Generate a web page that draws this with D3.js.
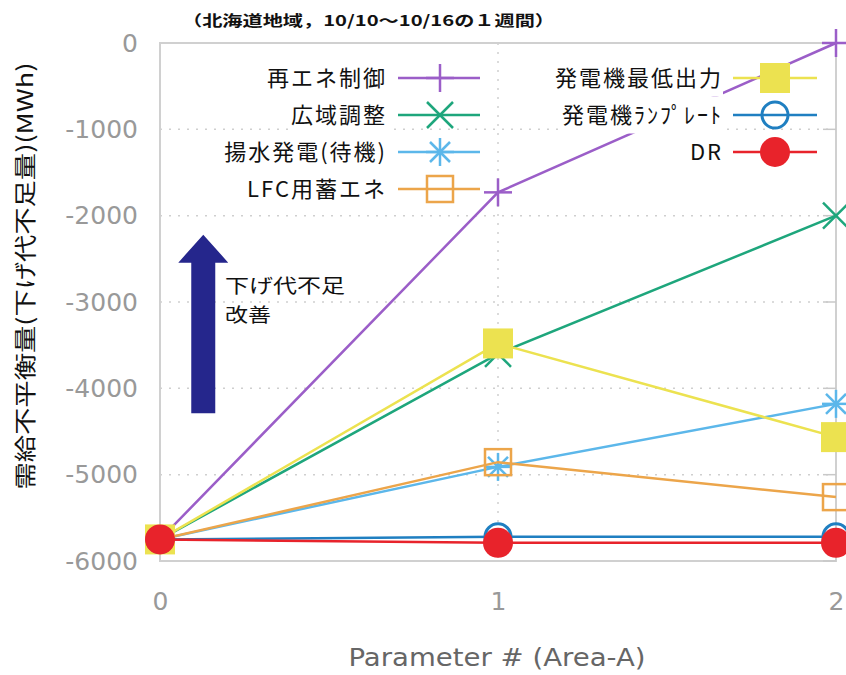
<!DOCTYPE html>
<html><head><meta charset="utf-8">
<script src="https://cdn.jsdelivr.net/npm/d3@7"></script>
<style>html,body{margin:0;padding:0;background:#fff;}svg{display:block;}</style>
</head><body>
<svg id="c" width="846" height="675"></svg>
<script>
// ---- data ----
const xValues = [0, 1, 2];
const xTickLabels = ["0", "1", "2"];
const yTicks = [0, -1000, -2000, -3000, -4000, -5000, -6000];
const seriesNames = ["再エネ制御", "広域調整", "揚水発電(待機)", "LFC用蓄エネ", "発電機最低出力", "発電機ﾗﾝﾌﾟﾚｰﾄ", "DR"];
const valsSaiene  = [-5750, -1730, 0];
const valsKouiki  = [-5750, -3600, -2000];
const valsYousui  = [-5750, -4910, -4180];
const valsLFC     = [-5750, -4855, -5260];
const valsMinOut  = [-5750, -3480, -4565];
const valsRamp    = [-5750, -5720, -5720];
const valsDR      = [-5750, -5790, -5790];
const seriesColors = ["#9b5ec8", "#1ea67c", "#5cb7ea", "#eca54a", "#ece250", "#1f7fc1", "#e8232b"];
const seriesMarkers = ["plus", "cross", "star", "openSquare", "filledSquare", "openCircle", "filledCircle"];
const titleText = "（北海道地域，10/10～10/16の１週間）";
const yTitle = "需給不平衡量(下げ代不足量)(MWh)";
const xTitle = "Parameter # (Area-A)";
const arrowText = ["下げ代不足", "改善"];
const arrowFrom = -4290, arrowTo = -2220, arrowX = 0.128;

const allVals = [valsSaiene, valsKouiki, valsYousui, valsLFC, valsMinOut, valsRamp, valsDR];
const series = seriesNames.map((n, i) => ({name: n, color: seriesColors[i], marker: seriesMarkers[i],
  values: xValues.map((x, j) => ({x, y: allVals[i][j]}))}));

// ---- layout ----
const L = 160, R = 836, T = 43, B = 561;
const x = d3.scaleLinear().domain([0, 2]).range([L, R]);
const y = d3.scaleLinear().domain([-6000, 0]).range([B, T]);
const svg = d3.select("#c");

// grid
const grid = svg.append("g");
grid.selectAll("line.h").data(yTicks.filter(t => t !== 0 && t !== -6000)).join("line")
  .attr("x1", L).attr("x2", R).attr("y1", d => y(d)).attr("y2", d => y(d))
  .attr("stroke", "#cfcfcf").attr("stroke-width", 1.5).attr("stroke-dasharray", "2,7");
grid.append("line").attr("x1", x(1)).attr("x2", x(1)).attr("y1", T).attr("y2", B)
  .attr("stroke", "#cfcfcf").attr("stroke-width", 1.5).attr("stroke-dasharray", "2,7");

// frame
svg.append("rect").attr("x", L).attr("y", T).attr("width", R - L).attr("height", B - T)
  .attr("fill", "none").attr("stroke", "#d0d0d0").attr("stroke-width", 2);

// right mirrored ticks
svg.append("g").selectAll("line").data(yTicks).join("line")
  .attr("x1", R - 13).attr("x2", R).attr("y1", d => y(d)).attr("y2", d => y(d))
  .attr("stroke", "#c8c8c8").attr("stroke-width", 1.5);

// y axis labels
const yAxis = d3.axisLeft(y).tickValues(yTicks).tickSize(0).tickPadding(22).tickFormat(d3.format("d"));
const ya = svg.append("g").attr("transform", `translate(${L},0)`).call(yAxis);
ya.select(".domain").remove();
ya.selectAll("text").attr("fill", "#999").style("font-family", "DejaVu Sans").style("font-size", "25px")
  .text(d => d === 0 ? "0" : "-" + Math.abs(d));

// x axis labels
const xAxis = d3.axisBottom(x).tickValues(xValues).tickSize(0).tickPadding(31).tickFormat((d, i) => xTickLabels[i]);
const xa = svg.append("g").attr("transform", `translate(0,${B})`).call(xAxis);
xa.select(".domain").remove();
xa.selectAll("text").attr("fill", "#999").style("font-family", "DejaVu Sans").style("font-size", "25px");

// titles
svg.append("text").attr("x", 182).attr("y", 26).attr("textLength", 373).attr("lengthAdjust", "spacingAndGlyphs")
  .style("font-family", "Noto Sans CJK JP").style("font-size", "15px").style("font-weight", "bold")
  .attr("fill", "#111").text(titleText);
svg.append("text").attr("transform", "translate(33,276) rotate(-90)").attr("text-anchor", "middle")
  .attr("textLength", 427).attr("lengthAdjust", "spacingAndGlyphs")
  .style("font-family", "Noto Sans CJK JP").style("font-size", "22px").attr("fill", "#111").text(yTitle);
svg.append("text").attr("x", 497).attr("y", 666).attr("text-anchor", "middle")
  .attr("textLength", 297).attr("lengthAdjust", "spacingAndGlyphs")
  .style("font-family", "DejaVu Sans").style("font-size", "24px").attr("fill", "#666").text(xTitle);

// arrow annotation
const ax = x(arrowX), yTop = y(arrowTo), yBot = y(arrowFrom);
const ap = d3.path();
ap.moveTo(ax, yTop); ap.lineTo(ax + 25, yTop + 28); ap.lineTo(ax + 12, yTop + 28);
ap.lineTo(ax + 12, yBot); ap.lineTo(ax - 12, yBot); ap.lineTo(ax - 12, yTop + 28);
ap.lineTo(ax - 25, yTop + 28); ap.closePath();
svg.append("path").attr("d", ap.toString()).attr("fill", "#25268c");
svg.append("text").attr("x", 225).attr("y", 293).attr("textLength", 120).attr("lengthAdjust", "spacingAndGlyphs")
  .style("font-family", "Noto Sans CJK JP").style("font-size", "19px").attr("fill", "#111").text(arrowText[0]);
svg.append("text").attr("x", 225).attr("y", 322).attr("textLength", 46).attr("lengthAdjust", "spacingAndGlyphs")
  .style("font-family", "Noto Sans CJK JP").style("font-size", "19px").attr("fill", "#111").text(arrowText[1]);

// marker drawing
function drawMarker(g, type, cx, cy, color) {
  const s = 14;
  if (type === "plus" || type === "star") {
    g.append("line").attr("x1", cx - s).attr("x2", cx + s).attr("y1", cy).attr("y2", cy).attr("stroke", color).attr("stroke-width", 2.5);
    g.append("line").attr("x1", cx).attr("x2", cx).attr("y1", cy - s).attr("y2", cy + s).attr("stroke", color).attr("stroke-width", 2.5);
  }
  if (type === "cross" || type === "star") {
    const d = type === "star" ? 10 : 13;
    g.append("line").attr("x1", cx - d).attr("x2", cx + d).attr("y1", cy - d).attr("y2", cy + d).attr("stroke", color).attr("stroke-width", 2.5);
    g.append("line").attr("x1", cx - d).attr("x2", cx + d).attr("y1", cy + d).attr("y2", cy - d).attr("stroke", color).attr("stroke-width", 2.5);
  }
  if (type === "openSquare") {
    g.append("rect").attr("x", cx - 13).attr("y", cy - 13).attr("width", 26).attr("height", 26)
      .attr("fill", "none").attr("stroke", color).attr("stroke-width", 2.5);
  }
  if (type === "filledSquare") {
    g.append("rect").attr("x", cx - 15).attr("y", cy - 15).attr("width", 30).attr("height", 30).attr("fill", color);
  }
  if (type === "openCircle") {
    g.append("circle").attr("cx", cx).attr("cy", cy).attr("r", 13).attr("fill", "none").attr("stroke", color).attr("stroke-width", 3);
  }
  if (type === "filledCircle") {
    g.append("circle").attr("cx", cx).attr("cy", cy).attr("r", 15).attr("fill", color);
  }
}

// series
const line = d3.line().x(d => x(d.x)).y(d => y(d.y));
series.forEach(s => {
  const g = svg.append("g");
  g.append("path").attr("d", line(s.values)).attr("fill", "none").attr("stroke", s.color).attr("stroke-width", 2.5);
  s.values.forEach(v => drawMarker(g, s.marker, x(v.x), y(v.y), s.color));
});

// legend
const legendCols = [{textRight: 387, sampleX1: 398, sampleX2: 480, markerX: 440, y0: 78},
                    {textRight: 723, sampleX1: 733, sampleX2: 817, markerX: 775, y0: 78}];
const rowGap = 37;
series.forEach((s, i) => {
  const col = i < 4 ? legendCols[0] : legendCols[1];
  const row = i < 4 ? i : i - 4;
  const cy = col.y0 + row * rowGap;
  const g = svg.append("g");
  const t = g.append("text").attr("x", col.textRight).attr("y", cy + 8).attr("text-anchor", "end")
    .style("font-family", "Noto Sans CJK JP").style("font-size", "22px").style("letter-spacing", "2px")
    .attr("fill", "#111").text(s.name);
  const bb = t.node().getBBox();
  g.insert("rect", "text").attr("x", bb.x - 2).attr("y", cy - rowGap / 2).attr("width", bb.width + 2).attr("height", rowGap).attr("fill", "#fff");
  g.append("line").attr("x1", col.sampleX1).attr("x2", col.sampleX2).attr("y1", cy).attr("y2", cy)
    .attr("stroke", s.color).attr("stroke-width", 2.5);
  drawMarker(g, s.marker, col.markerX, cy, s.color);
});
</script>
</body></html>
